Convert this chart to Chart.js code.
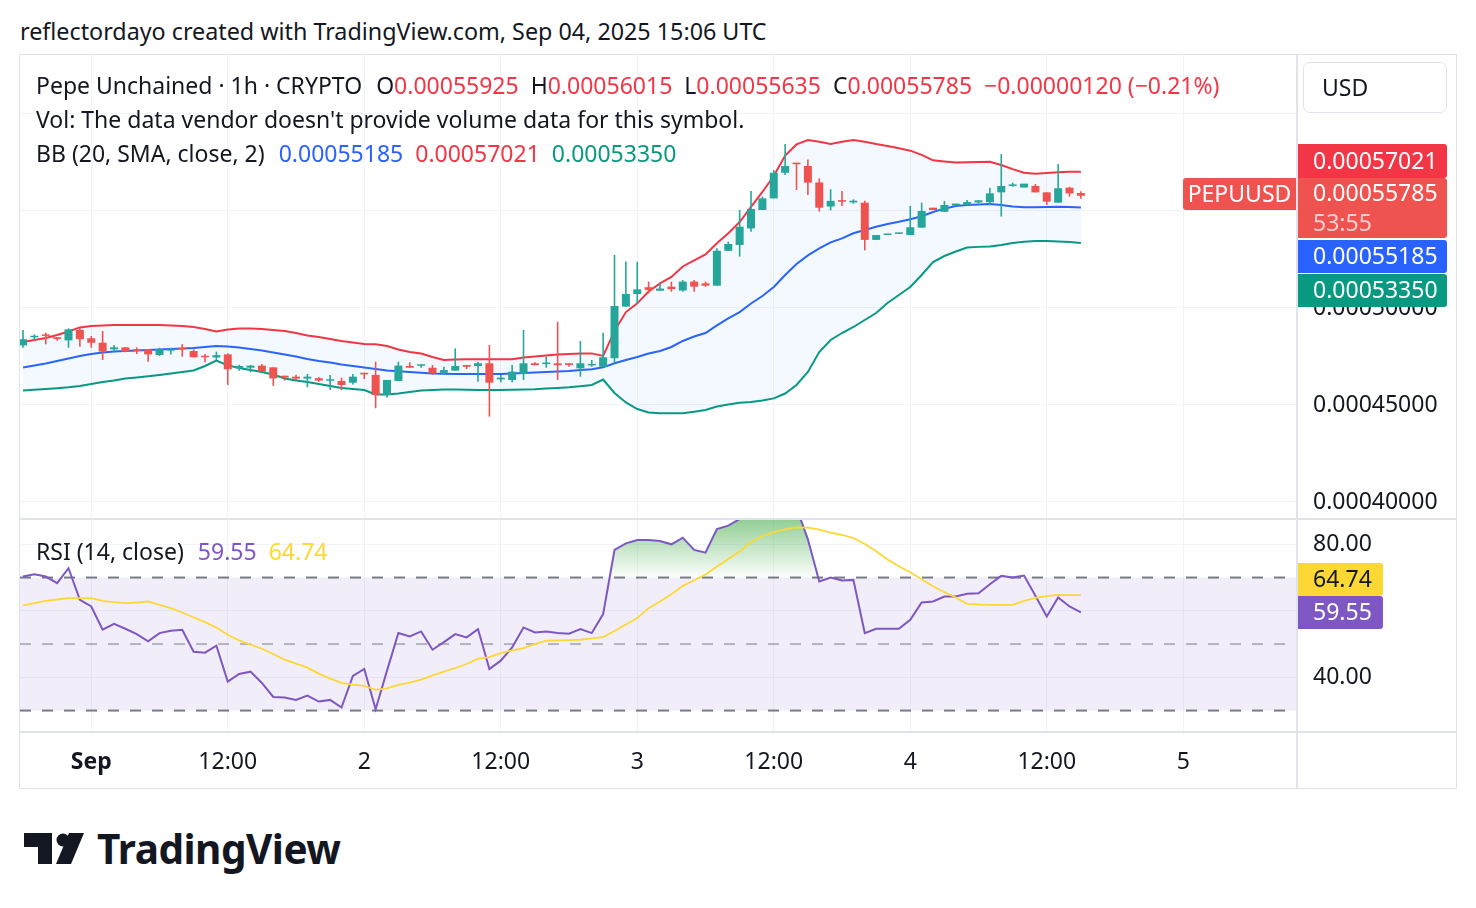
<!DOCTYPE html>
<html><head><meta charset="utf-8">
<script src="https://cdn.jsdelivr.net/npm/chart.js@4.4.1/dist/chart.umd.min.js"></script>
<style>
html,body{margin:0;padding:0;background:#fff;}
body{width:1476px;height:908px;position:relative;overflow:hidden;font-family:"Noto Sans",sans-serif;color:#131722;}
.abs{position:absolute;}
#title{position:absolute;left:20px;top:15px;font-size:23.3px;line-height:32px;white-space:nowrap;}
.leg{position:absolute;left:36px;font-size:23px;line-height:30px;white-space:nowrap;}
.g{margin-left:12px}
.ln{position:absolute;background:#e0e3eb;}
</style></head>
<body>
<div id="title">reflectordayo created with TradingView.com, Sep 04, 2025 15:06 UTC</div>
<div class="abs" style="left:19px;top:54px;width:1436px;height:733px;border:1px solid #e0e3eb;"></div>
<canvas id="main" class="abs" style="left:20px;top:55px" width="1436" height="463"></canvas>
<canvas id="rsiChart" class="abs" style="left:20px;top:520px" width="1436" height="268"></canvas>
<div class="ln" style="left:20px;top:518px;width:1436px;height:2px;"></div>
<div class="ln" style="left:20px;top:731px;width:1436px;height:2px;"></div>
<div class="ln" style="left:1296px;top:55px;width:2px;height:733px;"></div>
<div class="abs" style="left:1303px;top:62px;width:144px;height:51px;border:1px solid #e0e3eb;border-radius:7px;box-sizing:border-box;font-size:23px;line-height:49px;padding-left:18px;">USD</div>

<div class="leg" id="leg1" style="top:70px"></div>
<div class="leg" style="top:104px">Vol: The data vendor doesn't provide volume data for this symbol.</div>
<div class="leg" id="leg3" style="top:138px"></div>
<div class="leg" id="leg4" style="top:536px"></div>

<svg class="abs" style="left:22px;top:830px" width="64" height="36" viewBox="0 0 64 36">
  <path d="M2 3 H30 V34 H16 V17 H2 Z" fill="#131722"/>
  <circle cx="41" cy="10" r="6.5" fill="#131722"/>
  <path d="M47 3 H62 L49 34 H34 Z" fill="#131722"/>
</svg>
<div class="abs" style="left:97px;top:822px;font-size:40.5px;font-weight:700;line-height:54px;letter-spacing:-0.5px;">TradingView</div>

<script>
const FONT = '"Noto Sans", sans-serif';
const FS = 23;
const UP = '#26a69a', DOWN = '#ef5350';
const PRICE_UNIT = 1e-5; // OHLC and BB arrays below are in units of 0.00001 USD

// hourly candles, index 0 = Aug 31 18:00 UTC
const timeTickIndex  = [6, 18, 30, 42, 54, 66, 78, 90, 102];
const timeTickLabels = ['Sep', '12:00', '2', '12:00', '3', '12:00', '4', '12:00', '5'];
const priceTicks = [40, 45, 50, 55, 60];
const rsiTicks = [40, 60, 80];
const rsiBandLevels = [70, 50, 30];
const countdown = '53:55';

const open = [48.07,48.49,48.64,48.49,48.33,48.87,48.44,48.21,47.87,47.97,
47.87,47.87,47.58,47.80,47.95,47.78,47.53,47.45,47.61,46.89,
46.92,47.03,46.94,46.51,46.46,46.36,46.38,46.25,46.24,46.15,
46.66,46.55,45.52,46.24,47.01,47.02,46.92,46.66,46.77,47.06,
47.01,47.15,46.32,46.29,46.60,47.15,47.11,47.15,47.15,46.89,
47.04,46.97,47.41,50.07,50.72,51.07,50.89,51.10,50.90,51.36,
51.27,51.15,52.95,53.25,54.10,55.05,55.65,56.97,57.49,57.32,
56.47,55.23,55.56,55.44,55.43,53.51,53.76,53.82,53.76,54.14,
55.17,54.96,55.28,55.29,55.44,55.45,55.96,56.29,56.21,56.29,
55.96,55.43,56.20,55.925];
const high = [48.87,48.64,48.73,48.49,48.95,48.95,48.56,48.81,48.09,47.99,
47.97,47.87,47.95,47.95,48.14,47.87,47.63,47.75,47.66,47.08,
47.06,47.11,46.94,46.51,46.56,46.60,46.44,46.55,46.41,46.60,
46.66,47.23,46.29,47.23,47.20,47.09,47.06,46.97,47.92,47.06,
47.23,48.09,46.55,47.06,48.87,47.20,47.49,49.29,47.15,48.30,
47.32,48.73,52.73,52.39,52.39,51.36,51.29,51.36,51.44,51.44,
51.36,53.08,53.42,55.05,56.03,55.74,57.11,58.45,57.49,57.66,
56.68,56.12,56.03,55.60,55.53,53.76,53.82,53.85,55.26,55.43,
55.17,55.52,55.38,55.57,55.55,56.20,57.93,56.46,56.41,56.39,
55.96,57.42,56.25,56.015];
const low = [47.95,48.35,48.13,48.31,47.95,48.00,47.95,47.32,47.72,47.72,
47.63,47.23,47.53,47.60,47.49,47.46,47.20,47.32,46.03,46.77,
46.68,46.72,45.99,46.26,46.28,45.91,46.19,45.77,45.77,46.06,
46.34,44.83,45.39,46.24,46.92,46.92,46.55,46.60,46.77,46.85,
46.20,44.40,46.17,46.17,46.29,47.05,46.92,46.29,46.97,46.46,
46.97,46.97,47.15,50.07,50.24,50.75,50.89,50.84,50.84,50.84,
51.10,51.15,52.95,52.65,53.93,55.05,55.65,56.86,56.08,55.82,
54.97,55.03,55.26,55.38,52.97,53.51,53.76,53.82,53.76,54.14,
55.05,54.96,55.28,55.29,55.40,55.31,54.71,56.25,56.21,55.96,
55.31,55.43,55.74,55.635];
const close = [48.39,48.57,48.56,48.40,48.90,48.39,48.21,47.75,47.97,47.75,
47.78,47.61,47.87,47.87,47.87,47.46,47.46,47.57,46.84,47.01,
47.03,46.72,46.37,46.41,46.36,46.46,46.26,46.32,46.03,46.46,
46.58,45.52,46.29,47.03,46.92,47.09,46.63,46.80,47.01,46.97,
47.15,46.15,46.41,46.72,47.15,47.05,47.18,47.05,47.06,47.15,
47.11,47.46,50.10,50.72,50.96,50.93,51.00,50.97,51.36,51.10,
51.15,52.95,53.30,54.19,55.10,55.65,56.97,57.32,57.41,56.46,
55.17,55.52,55.48,55.53,53.51,53.76,53.82,53.85,54.16,55.00,
55.05,55.31,55.38,55.46,55.55,55.91,56.29,56.37,56.41,55.96,
55.48,56.17,55.905,55.785];

const bbUpper = [48.25,48.35,48.45,48.61,48.79,49.00,49.07,49.10,49.12,49.12,
49.12,49.12,49.12,49.10,49.07,49.02,48.92,48.79,48.89,48.94,
48.94,48.92,48.87,48.81,48.71,48.58,48.51,48.40,48.30,48.22,
48.14,48.13,48.04,47.86,47.73,47.65,47.47,47.32,47.35,47.36,
47.36,47.36,47.36,47.36,47.45,47.50,47.55,47.60,47.63,47.65,
47.66,47.53,48.81,49.79,50.24,50.85,51.27,51.60,52.14,52.45,
52.76,53.34,53.85,54.43,55.21,55.98,56.80,57.86,58.43,58.66,
58.57,58.45,58.57,58.66,58.57,58.45,58.35,58.23,58.11,57.89,
57.61,57.55,57.50,57.51,57.53,57.54,57.37,57.16,56.97,56.92,
56.96,57.00,57.02,57.021];
const bbBasis = [46.93,47.04,47.14,47.27,47.40,47.53,47.63,47.71,47.76,47.78,
47.81,47.84,47.86,47.89,47.91,47.94,47.99,48.04,48.02,47.96,
47.89,47.81,47.71,47.60,47.50,47.37,47.27,47.19,47.09,47.01,
46.93,46.86,46.78,46.74,46.70,46.66,46.62,46.61,46.60,46.60,
46.60,46.60,46.60,46.62,46.65,46.68,46.70,46.73,46.75,46.80,
46.84,46.94,47.15,47.32,47.47,47.65,47.78,47.99,48.30,48.53,
48.71,49.10,49.46,49.79,50.23,50.62,51.08,51.70,52.27,52.71,
53.07,53.38,53.59,53.85,54.02,54.19,54.33,54.44,54.57,54.73,
54.95,55.12,55.26,55.31,55.34,55.36,55.31,55.23,55.19,55.19,
55.21,55.22,55.21,55.185];
const bbLower = [45.75,45.78,45.82,45.86,45.91,45.98,46.08,46.19,46.26,46.37,
46.42,46.48,46.55,46.62,46.70,46.78,47.01,47.29,47.04,46.91,
46.80,46.70,46.57,46.37,46.26,46.19,46.08,45.98,45.88,45.82,
45.77,45.54,45.54,45.59,45.67,45.75,45.77,45.80,45.80,45.79,
45.77,45.77,45.77,45.78,45.80,45.81,45.85,45.88,45.91,45.97,
46.03,46.31,45.62,45.13,44.79,44.61,44.57,44.57,44.57,44.65,
44.74,44.92,45.03,45.11,45.15,45.23,45.34,45.59,46.03,46.70,
47.73,48.35,48.71,49.02,49.38,49.74,50.26,50.67,51.08,51.70,
52.37,52.68,52.91,53.12,53.15,53.17,53.25,53.35,53.42,53.45,
53.45,53.43,53.40,53.35];

const rsi = [70.3,71.0,70.3,68.3,72.8,63.3,61.3,54.3,56.1,54.6,
53.0,50.8,53.3,54.0,54.3,47.7,47.4,49.5,38.7,41.0,
41.7,38.3,34.1,33.9,33.2,34.5,32.7,33.2,30.9,40.4,
42.5,30.4,42.0,53.3,52.3,53.8,48.3,50.6,53.0,52.0,
54.5,42.5,45.0,49.0,55.0,53.5,53.8,53.3,53.1,54.5,
53.3,59.0,78.3,80.3,81.3,81.3,81.0,80.0,82.0,78.3,
77.5,84.6,85.6,87.6,89.5,90.0,92.0,92.3,91.0,81.5,
68.8,70.0,69.1,69.3,53.3,54.6,54.6,54.6,57.3,62.5,
62.8,64.3,64.3,65.1,65.3,68.0,70.5,70.0,70.6,64.5,
58.3,64.0,61.3,59.55];
const rsiMA = [61.6,62.3,63.0,63.4,63.8,63.8,63.8,63.0,62.6,62.3,
62.5,62.8,61.8,60.8,59.5,58.0,56.6,55.0,52.8,51.1,
49.8,48.6,47.0,45.3,44.1,42.9,41.1,39.6,38.3,37.8,
37.4,36.2,36.7,37.7,38.4,39.3,40.6,41.7,42.8,44.0,
45.6,46.1,47.3,48.1,48.8,50.0,51.0,51.1,51.2,51.3,
51.7,52.1,53.9,55.9,57.8,60.8,62.8,65.0,67.5,69.2,
70.9,73.3,75.6,77.8,80.7,82.5,83.6,84.5,85.1,85.0,
84.4,83.5,82.8,81.9,80.1,77.9,75.4,73.4,71.6,69.5,
67.4,65.6,64.0,62.1,61.9,61.8,61.8,61.8,63.0,63.9,
64.4,64.8,64.74,64.74];

const hours = open.map((_, i) => i);
const N = close.length - 1;
const fmtP = v => (v * PRICE_UNIT).toFixed(8);
const candleColors = hours.map(i => close[i] >= open[i] ? UP : DOWN);

// legends
const dnCol = '#f23645';
const chg = close[N] - close[N - 1];
const pct = chg / close[N - 1] * 100;
const sgn = v => (v < 0 ? '\u2212' : '+');
const val = (t, c) => '<span style="color:' + c + '">' + t + '</span>';
document.getElementById('leg1').innerHTML =
  'Pepe Unchained · 1h · CRYPTO' +
  '<span class="g" style="margin-left:14px">O</span>' + val(fmtP(open[N]), dnCol) +
  '<span class="g">H</span>' + val(fmtP(high[N]), dnCol) +
  '<span class="g">L</span>' + val(fmtP(low[N]), dnCol) +
  '<span class="g">C</span>' + val(fmtP(close[N]), dnCol) +
  '<span class="g" style="color:' + dnCol + '">' + sgn(chg) + fmtP(Math.abs(chg)) + ' (' + sgn(pct) + Math.abs(pct).toFixed(2) + '%)</span>';
document.getElementById('leg3').innerHTML =
  'BB (20, SMA, close, 2)' +
  '<span class="g" style="margin-left:14px;color:#2962ff">' + fmtP(bbBasis[N]) + '</span>' +
  '<span class="g" style="color:#f23645">' + fmtP(bbUpper[N]) + '</span>' +
  '<span class="g" style="color:#089981">' + fmtP(bbLower[N]) + '</span>';
document.getElementById('leg4').innerHTML =
  'RSI (14, close)' +
  '<span class="g" style="margin-left:14px;color:#7e57c2">' + rsi[N].toFixed(2) + '</span>' +
  '<span class="g" style="color:#fdd835">' + rsiMA[N].toFixed(2) + '</span>';

Chart.defaults.animation = false;
Chart.defaults.font.family = FONT;
Chart.defaults.font.size = FS;
Chart.defaults.color = '#131722';
Chart.defaults.plugins.legend.display = false;
Chart.defaults.plugins.tooltip.enabled = false;

const GRID = '#f0f3fa';
const X_MIN = -0.264, X_MAX = 111.91;

function tag(ctx, x, y, w, h, bg, lines, radius) {
  ctx.fillStyle = bg;
  ctx.beginPath();
  ctx.roundRect(x, y, w, h, radius || [0, 3, 3, 0]);
  ctx.fill();
  const step = h / lines.length;
  lines.forEach((ln, k) => {
    ctx.fillStyle = ln[1];
    ctx.textAlign = ln[2] || 'left';
    ctx.fillText(ln[0], ln[3] !== undefined ? ln[3] : x + 15, y + step * k + step / 2 + 1);
  });
}

const noPad = s => { s.paddingTop = 0; s.paddingBottom = 0; s.paddingLeft = 0; s.paddingRight = 0; };

const mainTags = {
  id: 'mainTags',
  afterDraw(chart) {
    const { ctx, chartArea, scales } = chart;
    const y = scales.y;
    const x0 = chartArea.right + 2, w = 149;
    const yc = y.getPixelForValue(close[N]);
    const lastTop = Math.round(yc - 17.5);
    ctx.save();
    ctx.font = FS + 'px ' + FONT;
    ctx.textBaseline = 'middle';
    tag(ctx, x0, lastTop - 34, w, 34, '#f23645', [[fmtP(bbUpper[N]), '#fff']]);
    tag(ctx, x0, lastTop, w, 60, DOWN, [[fmtP(close[N]), '#fff'], [countdown, 'rgba(255,255,255,0.72)']]);
    tag(ctx, x0, lastTop + 62, w, 33, '#2962ff', [[fmtP(bbBasis[N]), '#fff']]);
    tag(ctx, x0, lastTop + 96, w, 33, '#089981', [[fmtP(bbLower[N]), '#fff']]);
    tag(ctx, chartArea.right - 113, lastTop, 113, 32, DOWN,
        [['PEPUUSD', '#fff', 'center', chartArea.right - 56.5]], [3, 0, 0, 3]);
    ctx.restore();
  }
};

new Chart(document.getElementById('main'), {
  type: 'bar',
  data: {
    datasets: [
      { type: 'bar', data: hours.map(i => ({ x: i, y: [open[i], close[i]] })),
        backgroundColor: candleColors, grouped: false, maxBarThickness: 8, minBarLength: 1.5, order: 0 },
      { type: 'bar', data: hours.map(i => ({ x: i, y: [low[i], high[i]] })),
        backgroundColor: candleColors, grouped: false, maxBarThickness: 1.6, order: 1 },
      { type: 'line', data: hours.map(i => ({ x: i, y: bbUpper[i] })), borderColor: '#f23645', borderWidth: 2,
        pointRadius: 0, tension: 0, fill: 4, backgroundColor: 'rgba(33,150,243,0.055)', order: 2 },
      { type: 'line', data: hours.map(i => ({ x: i, y: bbBasis[i] })), borderColor: '#2962ff', borderWidth: 2,
        pointRadius: 0, tension: 0, fill: false, order: 3 },
      { type: 'line', data: hours.map(i => ({ x: i, y: bbLower[i] })), borderColor: '#089981', borderWidth: 2,
        pointRadius: 0, tension: 0, fill: false, order: 4 }
    ]
  },
  options: {
    responsive: false,
    layout: { padding: 0, autoPadding: false },
    scales: {
      x: { type: 'linear', min: X_MIN, max: X_MAX, offset: false,
        grid: { color: GRID, drawTicks: false, offset: false, lineWidth: 1 },
        border: { display: false },
        ticks: { display: false },
        afterBuildTicks: s => { s.ticks = timeTickIndex.map(v => ({ value: v })); },
        afterFit: s => { s.height = 0; noPad(s); } },
      y: { type: 'linear', position: 'right', min: 39.175, max: 63.04,
        grid: { color: GRID, drawTicks: false },
        border: { display: false },
        ticks: { padding: 17, crossAlign: 'near', color: '#131722',
          callback: v => (v === 55 || v === 60) ? '' : fmtP(v) },
        afterBuildTicks: s => { s.ticks = priceTicks.map(v => ({ value: v })); },
        afterFit: s => { s.width = 160; noPad(s); } }
    }
  },
  plugins: [mainTags]
});

const rsiBands = {
  id: 'rsiBands',
  beforeDatasetsDraw(chart) {
    const { ctx, chartArea: a, scales: { y } } = chart;
    const yU = y.getPixelForValue(rsiBandLevels[0]);
    const yM = y.getPixelForValue(rsiBandLevels[1]);
    const yL = y.getPixelForValue(rsiBandLevels[2]);
    ctx.save();
    ctx.fillStyle = 'rgba(126,87,194,0.1)';
    ctx.fillRect(a.left, yU, a.right - a.left, yL - yU);
    ctx.setLineDash([11, 11]);
    ctx.lineWidth = 2;
    ctx.strokeStyle = '#787b86';
    [yU, yL].forEach(v => { ctx.beginPath(); ctx.moveTo(a.left, v); ctx.lineTo(a.right, v); ctx.stroke(); });
    ctx.strokeStyle = 'rgba(120,123,134,0.5)';
    ctx.beginPath(); ctx.moveTo(a.left, yM); ctx.lineTo(a.right, yM); ctx.stroke();
    ctx.restore();
  },
  afterDraw(chart) {
    const { ctx, chartArea, scales: { y } } = chart;
    const x0 = chartArea.right + 2, w = 85;
    const pTop = Math.round(y.getPixelForValue(rsi[N]) - 16.5);
    ctx.save();
    ctx.font = FS + 'px ' + FONT;
    ctx.textBaseline = 'middle';
    tag(ctx, x0, pTop - 33, w, 33, '#fdd835', [[rsiMA[N].toFixed(2), '#131722']]);
    tag(ctx, x0, pTop, w, 33, '#7e57c2', [[rsi[N].toFixed(2), '#fff']]);
    ctx.restore();
  }
};

new Chart(document.getElementById('rsiChart'), {
  type: 'line',
  data: {
    datasets: [
      { data: hours.map(i => ({ x: i, y: rsiMA[i] })), borderColor: '#fdd835', borderWidth: 1.8,
        pointRadius: 0, tension: 0, fill: false, order: 0 },
      { data: hours.map(i => ({ x: i, y: rsi[i] })), borderColor: '#7e57c2', borderWidth: 2,
        pointRadius: 0, tension: 0, order: 1,
        fill: { target: { value: rsiBandLevels[0] }, below: 'rgba(0,0,0,0)' },
        backgroundColor: (c) => {
          const { chart } = c;
          const { ctx, chartArea, scales } = chart;
          if (!chartArea || !scales.y) return 'rgba(76,175,80,0.3)';
          const g = ctx.createLinearGradient(0, chartArea.top, 0, scales.y.getPixelForValue(rsiBandLevels[0]));
          g.addColorStop(0, 'rgba(76,175,80,0.6)');
          g.addColorStop(1, 'rgba(76,175,80,0.02)');
          return g;
        } }
    ]
  },
  options: {
    responsive: false,
    layout: { padding: 0, autoPadding: false },
    scales: {
      x: { type: 'linear', min: X_MIN, max: X_MAX, offset: false,
        grid: { color: GRID, drawTicks: false, offset: false },
        border: { display: false },
        ticks: { autoSkip: false, maxRotation: 0, padding: 17, color: '#131722',
          font: c => ({ family: FONT, size: FS, weight: (c.tick && c.tick.value === timeTickIndex[0]) ? '700' : '400' }),
          callback: v => { const k = timeTickIndex.indexOf(v); return k < 0 ? '' : timeTickLabels[k]; } },
        afterBuildTicks: s => { s.ticks = timeTickIndex.map(v => ({ value: v })); },
        afterFit: s => { s.height = 56; noPad(s); } },
      y: { type: 'linear', position: 'right', min: 23.55, max: 87.31,
        grid: { color: GRID, drawTicks: false },
        border: { display: false },
        ticks: { padding: 17, crossAlign: 'near', color: '#131722',
          callback: v => v === 60 ? '' : v.toFixed(2) },
        afterBuildTicks: s => { s.ticks = rsiTicks.map(v => ({ value: v })); },
        afterFit: s => { s.width = 160; noPad(s); } }
    }
  },
  plugins: [rsiBands]
});
</script>
</body></html>
